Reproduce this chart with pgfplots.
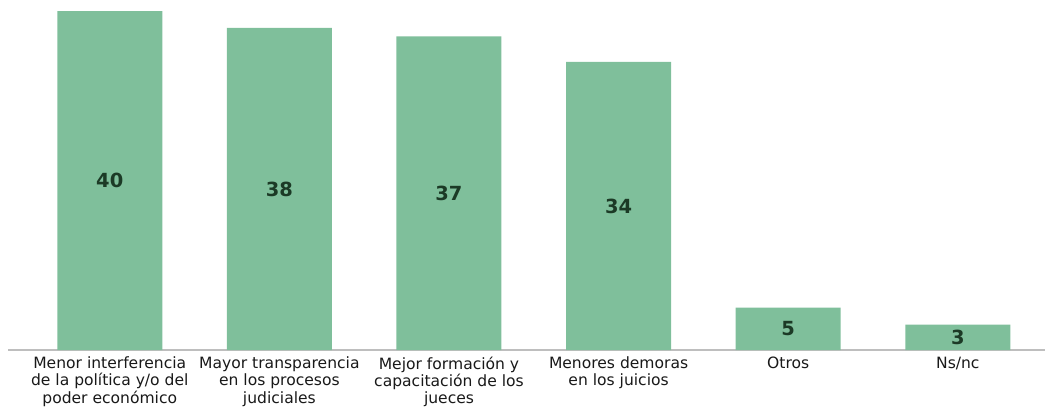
\documentclass[border=0pt]{standalone}
\usepackage{fontspec}
\setmainfont{DejaVu Sans}
\usepackage{pgfplots}
\pgfplotsset{compat=1.18}
\definecolor{barc}{RGB}{127,191,155}
\definecolor{labc}{RGB}{28,58,38}
\definecolor{axc}{RGB}{190,190,190}
\begin{document}
\begin{tikzpicture}
\begin{axis}[
  at={(0,0)}, anchor=south west,
  scale only axis,
  width=746.64pt, height=252pt,
  xmin=-0.6, xmax=5.514,
  ymin=0, ymax=41.3,
  axis x line*=bottom,
  axis y line=none,
  x axis line style={draw=axc, line width=1pt, -},
  xtick={0,1,2,3,4,5},
  xticklabels={{Menor interferencia\\de la política y/o del\\poder económico},
               {Mayor transparencia\\en los procesos\\judiciales},
               {Mejor formación y\\capacitación de los\\jueces},
               {Menores demoras\\en los juicios},
               {Otros},
               {Ns/nc}},
  xticklabel style={align=center, font=\fontsize{11.2}{12.4}\selectfont, text=black!90, yshift=-1.4pt},
  major tick length=0pt,
  ytick=\empty,
  bar width=75.6pt,
  ybar,
  bar shift=0pt,
  clip=false,
  /pgf/number format/assume math mode=true,
]
\addplot[fill=barc, draw=none,
  nodes near coords,
  visualization depends on={rawy \as \rawy},
  every node near coord/.append style={anchor=center, yshift={-\rawy*3.0508pt}, font=\fontsize{14}{16}\selectfont\bfseries, text=labc},
] coordinates {(0,40) (1,38) (2,37) (3,34) (4,5) (5,3)};
\end{axis}
\pgfresetboundingbox
\path (-5.76pt,-41.04pt) rectangle (746.64pt,252pt);
\end{tikzpicture}
\end{document}
